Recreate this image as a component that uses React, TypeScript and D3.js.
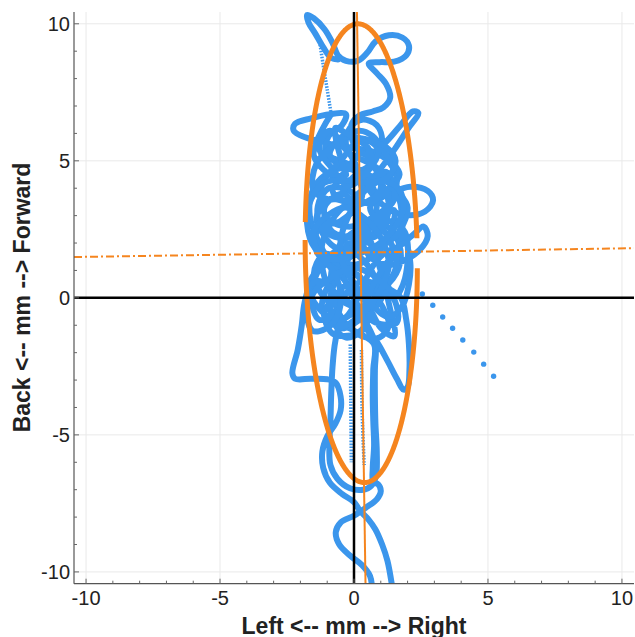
import React from "react";
import * as d3 from "d3";

const W = 635;
const H = 637;
const X_DOMAIN = [-10.45, 10.45];
const Y_DOMAIN = [-10.43, 10.43];
const MAJOR_TICKS = [-10, -5, 0, 5, 10];
const MINOR_TICKS = d3.range(-10, 11, 1);
const X_TITLE = "Left <-- mm --> Right";
const Y_TITLE = "Back <-- mm --> Forward";

// Centre-of-pressure trace, first stretch (from the bottom edge up to the top loops)
const traceA: [number, number][] = [
  [0.68, -10.7], [0.6, -10.15], [0.3, -9.75], [-0.15, -9.4], [-0.55, -9.0], [-0.68, -8.55], [-0.5, -8.2],
  [0.0, -7.95], [0.45, -7.65], [0.85, -7.35], [1.0, -7.05], [0.9, -6.8], [0.72, -6.72], [0.7, -6.2],
  [0.75, -5.4], [0.72, -4.5], [0.7, -3.6], [0.72, -2.6], [0.75, -1.7], [0.2, -1.3], [-0.6, -0.9],
  [-1.3, -0.4], [-1.7, 0.4], [-1.3, 1.05], [-0.7, 1.3], [-0.1, 1.0], [0.5, 0.4], [1.05, -0.3], [1.3, -1.0],
  [0.95, -1.45], [0.3, -1.4], [-0.3, -0.95], [-0.75, -0.1], [-0.85, 0.9], [-0.55, 1.9], [0.15, 2.5],
  [0.9, 2.75], [1.5, 2.35], [1.75, 1.5], [1.45, 0.7], [0.75, 0.2], [0.0, 0.35], [-0.7, 1.05], [-1.3, 2.0],
  [-1.65, 3.0], [-1.55, 3.9], [-1.05, 4.5], [-0.3, 4.75], [0.4, 4.45], [0.85, 3.6], [0.65, 2.7], [0.1, 2.0],
  [-0.6, 1.8], [-1.2, 2.4], [-1.35, 3.35], [-0.95, 4.0], [-0.25, 3.95], [0.5, 3.45], [1.3, 3.8], [2.1, 4.05],
  [2.75, 3.9], [2.95, 3.55], [2.65, 3.15], [1.95, 3.02], [1.2, 3.3], [0.55, 3.95], [0.05, 4.9], [-0.3, 5.6],
  [-0.15, 6.2], [0.3, 6.5], [0.85, 6.3], [1.05, 5.7], [0.75, 5.0], [0.2, 4.65], [-0.5, 4.85], [-1.05, 5.3],
  [-0.95, 5.9], [-0.45, 6.3], [-0.3, 6.7], [-0.9, 6.7], [-1.6, 6.55], [-2.2, 6.35], [-2.25, 6.1], [-1.8, 5.85],
  [-1.2, 5.7], [-0.6, 5.55], [0.1, 5.45], [0.8, 5.3], [1.35, 4.9], [1.6, 4.3], [1.4, 3.6], [0.9, 2.9],
  [0.3, 2.2], [-0.3, 1.5], [-0.9, 0.6], [-1.2, -0.3], [-0.9, -0.9], [-0.3, -0.7], [0.2, 0.1], [0.6, 1.0],
  [1.1, 1.6], [1.7, 1.9], [2.2, 2.3], [2.6, 2.6], [2.75, 2.25], [2.45, 1.75], [1.85, 1.35], [1.25, 1.2],
  [0.6, 1.5], [0.2, 2.3], [0.1, 3.2], [0.35, 4.0], [0.9, 4.6], [1.5, 5.4], [2.0, 6.15], [2.4, 6.75],
  [2.2, 6.8], [1.7, 6.25], [1.1, 5.6], [0.5, 5.2], [0.0, 5.6], [-0.1, 6.3], [0.2, 6.65], [0.7, 6.8],
  [1.1, 6.95], [1.35, 7.3], [1.2, 7.8], [0.85, 8.2], [0.55, 8.55], [0.95, 8.6], [1.5, 8.62], [1.95, 8.85],
  [2.05, 9.2], [1.8, 9.5], [1.3, 9.58], [0.8, 9.35], [0.5, 8.95], [0.15, 8.65], [-0.3, 8.65], [-0.6, 8.85],
  [-0.8, 9.3], [-1.1, 9.8], [-1.5, 10.2], [-1.75, 10.32], [-1.7, 10.05], [-1.45, 9.65], [-1.15, 9.15],
  [-0.85, 8.75], [-0.6, 8.7],
];

// Fast (sparsely sampled) stretches of the trace
const sparseTop: [number, number][] = [[-1.3, 9.45], [-1.15, 8.5], [-1.0, 7.6], [-0.85, 6.7]];
const sparseCol1: [number, number][] = [[-0.14, -1.7], [-0.12, -3.8], [-0.1, -6.0]];
const sparseCol2: [number, number][] = [[0.28, -1.9], [0.3, -4.0], [0.38, -6.1]];

// Dense wandering inside the ellipse
const traceC: [number, number][] = [
  [-0.85, 6.7], [-1.5, 5.2], [-0.6, 4.4], [0.3, 5.3], [1.0, 4.0], [0.2, 3.4], [-0.9, 3.6], [-1.4, 2.8],
  [-0.6, 2.2], [0.6, 2.6], [1.5, 3.2], [1.1, 1.9], [0.0, 1.2], [-1.1, 1.6], [-1.5, 0.8], [-0.8, -0.2],
  [0.3, 0.6], [1.4, 0.1], [1.6, -0.9], [0.8, -0.9], [0.1, -0.2], [-0.4, 0.9], [-0.2, 2.0], [0.6, 1.6],
  [1.2, 0.6], [0.7, -0.4], [-0.3, -0.2], [-1.0, 0.5], [-1.2, 1.9], [-0.7, 3.0], [0.4, 4.0], [1.2, 4.6],
  [1.5, 3.6], [0.8, 3.0], [-0.1, 2.6], [-1.0, 2.9], [-1.2, 4.1], [-0.5, 5.0], [0.3, 5.8], [0.9, 5.4],
  [0.5, 4.6], [-0.2, 4.1], [-0.8, 4.7], [-1.3, 5.5], [-0.9, 6.1], [-0.2, 5.3], [0.6, 4.9], [1.4, 4.3],
  [1.8, 3.0], [1.7, 1.9], [1.2, 1.0], [1.5, 0.0], [1.9, 0.7], [1.9, 2.4], [1.3, 2.8], [0.4, 2.0],
  [-0.3, 1.3], [-0.9, -0.1], [-0.6, -1.1], [0.2, -0.8], [0.9, 0.2], [0.5, 1.2], [-0.4, 1.8], [-1.2, 1.2],
  [-1.6, 0.1], [-1.3, -0.8], [-0.7, -0.5], [-0.4, 0.4], [0.4, -0.1], [1.0, -1.1], [1.5, -1.4], [1.3, -0.2],
  [0.9, 1.3], [0.2, 3.0], [-0.4, 3.8], [-1.1, 3.3], [-0.8, 2.4], [0.1, 2.2], [0.9, 2.3], [1.3, 3.4],
  [0.9, 4.3], [0.1, 4.5], [-0.7, 3.6], [-1.5, 3.9], [-1.4, 4.9], [-0.6, 5.7], [0.2, 6.1], [0.7, 5.9],
  [1.3, 5.1], [1.7, 4.5], [1.2, 3.9], [0.6, 3.3], [1.1, 2.5], [1.6, 1.3], [1.1, 0.4], [0.3, 0.3],
  [-0.5, 0.1], [-1.1, -0.5], [-0.8, -1.3], [0.1, -1.3], [0.6, -0.6], [0.2, 0.8], [-0.6, 1.0], [-1.4, 1.7],
  [-1.3, 2.6], [-0.5, 2.8], [0.3, 3.7], [-0.1, 4.8], [-0.9, 5.2], [-0.4, 5.9], [0.5, 5.5], [0.8, 4.7],
  [1.6, 3.9], [2.0, 3.3], [1.5, 2.2], [0.7, 1.9], [-0.1, 3.3], [-0.8, 3.9], [-0.3, 4.5],
];

// Second stretch of the trace (from the top back down to the bottom edge)
const traceB: [number, number][] = [
  [-0.3, 4.5], [-0.7, 6.2], [-0.2, 5.95], [0.5, 5.75], [1.2, 5.5], [1.55, 5.0], [1.25, 4.4], [0.5, 4.2],
  [-0.3, 4.3], [-1.1, 4.2], [-1.6, 3.6], [-1.75, 2.7], [-1.45, 1.8], [-0.8, 1.4], [0.0, 1.55], [0.9, 1.95],
  [1.55, 2.6], [1.85, 3.3], [1.65, 4.0], [1.0, 4.25], [0.3, 3.8], [-0.2, 3.0], [-0.5, 2.1], [-0.4, 1.2],
  [0.1, 0.4], [0.7, -0.3], [1.3, -0.7], [1.8, -0.3], [2.05, 0.5], [2.1, 1.3], [1.9, 2.0], [1.4, 1.5],
  [0.9, 0.8], [0.5, 0.0], [0.3, -0.7], [0.55, -1.25], [0.85, -1.6], [1.25, -2.3], [1.6, -2.95], [1.85, -3.35],
  [2.0, -3.25], [2.07, -2.6], [2.05, -1.7], [1.95, -0.8], [1.75, 0.0], [1.2, 0.4], [0.6, 0.9], [-0.1, 1.1],
  [-0.9, 0.7], [-1.5, 0.2], [-1.75, -0.6], [-1.55, -1.2], [-1.0, -1.1], [-0.6, -0.6], [-0.5, 0.2], [-0.8, 1.0],
  [-1.3, 1.6], [-1.5, 2.4], [-1.0, 3.0], [-0.3, 3.3], [0.4, 2.9], [1.0, 2.2], [1.3, 1.2], [1.0, 0.3],
  [0.5, -0.4], [-0.1, -0.9], [-0.6, -1.2], [-0.3, -1.45], [0.3, -1.2], [0.4, -0.8], [0.0, -0.6], [-0.5, -0.9],
  [-0.7, -1.6], [-0.8, -2.5], [-0.85, -3.5], [-0.88, -4.5], [-0.92, -5.4], [-0.88, -6.1], [-0.62, -6.6],
  [-0.15, -6.95], [0.35, -7.0], [0.65, -6.85], [0.82, -6.5], [0.85, -5.6], [0.8, -4.6], [0.78, -3.6],
  [0.78, -2.6], [0.8, -1.7], [0.5, -1.0], [0.0, -0.3], [-0.6, 0.1], [-1.2, 0.6], [-1.6, 0.5], [-1.85, -0.2],
  [-1.95, -1.0], [-2.1, -1.9], [-2.3, -2.75], [-2.2, -2.95], [-1.6, -2.95], [-1.0, -2.97], [-0.68, -3.1],
  [-0.5, -3.6], [-0.5, -4.1], [-0.7, -4.6], [-1.0, -5.05], [-1.18, -5.6], [-1.15, -6.2], [-0.9, -6.75],
  [-0.45, -7.15], [0.0, -7.45], [0.21, -7.75], [0.55, -8.1], [0.8, -8.45], [1.05, -9.0], [1.25, -9.6],
  [1.45, -10.7],
];

// Isolated samples of a fast excursion to the right
const tailDots: [number, number][] = [
  [2.55, 0.14], [2.94, -0.27], [3.31, -0.7], [3.68, -1.11], [4.06, -1.54], [4.47, -1.98], [4.84, -2.42], [5.21, -2.86],
];

// 95% ellipse and its axes
const ELLIPSE_CENTER = [0.27, 1.63];
const ELLIPSE_SEMI = [2.09, 8.37]; // minor, major
const ELLIPSE_TILT = -0.0155; // dx/dy of the major axis
const ELLIPSE_GAPS = [[1.515, 1.634], [4.78, 4.85]];
const majorAxisLine: [number, number][] = [[0.11, 10.43], [0.43, -10.43]];
const minorAxisLine: [number, number][] = [[-10.45, 1.49], [10.45, 1.81]];

const BLUE = "#3B96EC";
const ORANGE = "#F5851F";
const FONT = "'Liberation Sans', Arial, Helvetica, sans-serif";

export default function App() {
  const left = 74, right = 634, top = 12, bottom = 583.7;
  const x = d3.scaleLinear().domain(X_DOMAIN).range([left, right]);
  const y = d3.scaleLinear().domain(Y_DOMAIN).range([bottom, top]);

  const trace = d3
    .line<[number, number]>()
    .x((d) => x(d[0]))
    .y((d) => y(d[1]))
    .curve(d3.curveCatmullRom.alpha(0.5));
  const straight = d3
    .line<[number, number]>()
    .x((d) => x(d[0]))
    .y((d) => y(d[1]));

  const hyp = Math.hypot(ELLIPSE_TILT, 1);
  const ux = ELLIPSE_TILT / hyp, uy = 1 / hyp;
  const vx = uy, vy = -ux;
  const ePts = d3.range(0, 721).map((i) => {
    const t = (i / 720) * Math.PI * 2;
    const a = ELLIPSE_SEMI[1] * Math.cos(t);
    const b = ELLIPSE_SEMI[0] * Math.sin(t);
    const gap = ELLIPSE_GAPS.some((g) => t > g[0] && t < g[1]);
    return { p: [ELLIPSE_CENTER[0] + a * ux + b * vx, ELLIPSE_CENTER[1] + a * uy + b * vy] as [number, number], gap };
  });
  const ellipsePath = d3
    .line<{ p: [number, number]; gap: boolean }>()
    .defined((d) => !d.gap)
    .x((d) => x(d.p[0]))
    .y((d) => y(d.p[1]))(ePts);

  const thick = [traceA, traceC, traceB];

  return (
    <svg width={W} height={H} style={{ position: "absolute", left: 0, top: 0, background: "#fff" }}>
      <defs>
        <clipPath id="plot">
          <rect x={left} y={top} width={right - left} height={bottom - top} />
        </clipPath>
      </defs>
      {MAJOR_TICKS.map((t) => (
        <g key={"g" + t}>
          <line x1={x(t)} x2={x(t)} y1={top} y2={bottom} stroke="#e9e9e9" strokeWidth={1} />
          <line x1={left} x2={right} y1={y(t)} y2={y(t)} stroke="#e9e9e9" strokeWidth={1} />
        </g>
      ))}
      <g clipPath="url(#plot)">
        {thick.map((s, i) => (
          <path key={"tr" + i} d={trace(s) || ""} fill="none" stroke={BLUE} strokeWidth={6} strokeLinejoin="round" strokeLinecap="round" />
        ))}
        {[sparseTop, sparseCol1, sparseCol2].map((s, i) => (
          <path key={"s" + i} d={trace(s) || ""} fill="none" stroke={BLUE} strokeWidth={3.5} strokeDasharray="1.6 1.4" />
        ))}
        {tailDots.map((d, i) => (
          <circle key={"t" + i} cx={x(d[0])} cy={y(d[1])} r={2.7} fill={BLUE} />
        ))}
        <path d={ellipsePath || ""} fill="none" stroke={ORANGE} strokeWidth={5} />
        <path d={straight(minorAxisLine) || ""} fill="none" stroke={ORANGE} strokeWidth={2} strokeDasharray="8 3 2 3" />
        <line x1={x(0)} x2={x(0)} y1={top} y2={bottom} stroke="#000" strokeWidth={2.5} />
        <path d={straight(majorAxisLine) || ""} fill="none" stroke={ORANGE} strokeWidth={2} />
        <line x1={left} x2={right} y1={y(0)} y2={y(0)} stroke="#000" strokeWidth={2.5} />
      </g>
      <line x1={left} x2={left} y1={top} y2={bottom} stroke="#555" strokeWidth={1.2} />
      <line x1={left} x2={right} y1={bottom} y2={bottom} stroke="#555" strokeWidth={1.2} />
      {MINOR_TICKS.map((t) => (
        <g key={"m" + t}>
          <line x1={x(t)} x2={x(t)} y1={bottom} y2={bottom - (t % 5 === 0 ? 5 : 3)} stroke="#666" strokeWidth={1} />
          <line x1={left} x2={left + (t % 5 === 0 ? 5 : 3)} y1={y(t)} y2={y(t)} stroke="#666" strokeWidth={1} />
        </g>
      ))}
      {MAJOR_TICKS.map((t) => (
        <text key={"xl" + t} x={x(t)} y={605} textAnchor="middle" fontFamily={FONT} fontSize={20} fill="#222">
          {t}
        </text>
      ))}
      {MAJOR_TICKS.map((t) => (
        <text key={"yl" + t} x={70} y={y(t)} dy="0.36em" textAnchor="end" fontFamily={FONT} fontSize={20} fill="#222">
          {t}
        </text>
      ))}
      <text x={354} y={633.5} textAnchor="middle" fontFamily={FONT} fontSize={23} fontWeight="bold" fill="#222">
        {X_TITLE}
      </text>
      <text transform="translate(30, 297.5) rotate(-90)" textAnchor="middle" fontFamily={FONT} fontSize={23} fontWeight="bold" fill="#222">
        {Y_TITLE}
      </text>
    </svg>
  );
}
